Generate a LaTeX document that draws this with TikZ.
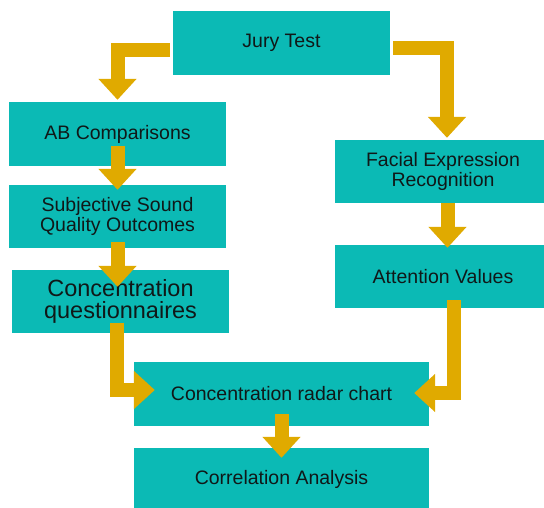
\documentclass[tikz,border=0pt]{standalone}
\usepackage{fontspec}
\setmainfont{Liberation Sans}
\usetikzlibrary{arrows.meta}
\definecolor{boxteal}{HTML}{0BBAB5}
\definecolor{arrgold}{HTML}{E0AA00}
\definecolor{txt}{HTML}{101818}
\begin{document}
\begin{tikzpicture}[x=1pt,y=-1pt,
  box/.style={rectangle, fill=boxteal, draw=none, inner sep=0pt, align=center,
    text=txt, font=\fontsize{19.5}{20}\selectfont},
  bigbox/.style={box, font=\fontsize{23.5}{22}\selectfont},
  arr/.style={draw=arrgold, line width=14pt, line join=miter, line cap=butt,
    -{Triangle[width=37pt,length=21pt]}, arrgold}]
\useasboundingbox (0,0) rectangle (544,508);
\clip (0,0) rectangle (544,508);
\fill[white] (0,0) rectangle (544,508);
% boxes
\node[box, minimum width=217pt, minimum height=64pt] (jury) at (281.5,43) {Jury Test};
\node[box, minimum width=217pt, minimum height=64pt] (ab) at (117.5,134) {AB Comparisons};
\node[box, minimum width=217pt, minimum height=63pt] (subj) at (117.5,216.5) {Subjective Sound\\Quality Outcomes};
\node[bigbox, minimum width=217pt, minimum height=63pt] (conq) at (120.5,301.5) {Concentration\\questionnaires};
\node[box, minimum width=216pt, minimum height=63pt] (facial) at (443,171.5) {Facial Expression\\Recognition};
\node[box, minimum width=216pt, minimum height=63pt] (att) at (443,276.5) {Attention Values};
\node[box, minimum width=295pt, minimum height=64pt] (radar) at (281.5,394) {Concentration radar chart};
\node[box, minimum width=295pt, minimum height=62pt] (corr) at (281.5,479) {Correlation Analysis};
% arrows
\draw[arr] ([xshift=-3pt,yshift=-7pt]jury.west) -| ([yshift=2pt]ab.north);
\draw[arr] ([xshift=3pt,yshift=-5pt]jury.east) -| ([xshift=4pt,yshift=2pt]facial.north);
\draw[arr] ([yshift=20pt]ab.south) -- ([yshift=-5pt]subj.north);
\draw[arr] ([yshift=6pt]subj.south) -- ([yshift=-17pt]subj.south |- conq.north);
\draw[arr] ([xshift=4.5pt]facial.south) -- ([xshift=4.5pt,yshift=-3pt]att.north);
\draw[arr] ([xshift=-3.5pt,yshift=10pt]conq.south) |- ([xshift=21pt,yshift=4pt]radar.west);
\draw[arr] ([xshift=10.5pt,yshift=8pt]att.south) |- ([xshift=-15pt,yshift=1pt]radar.east);
\draw[arr] ([yshift=12pt]radar.south) -- ([yshift=-10pt]corr.north);
\end{tikzpicture}
\end{document}
